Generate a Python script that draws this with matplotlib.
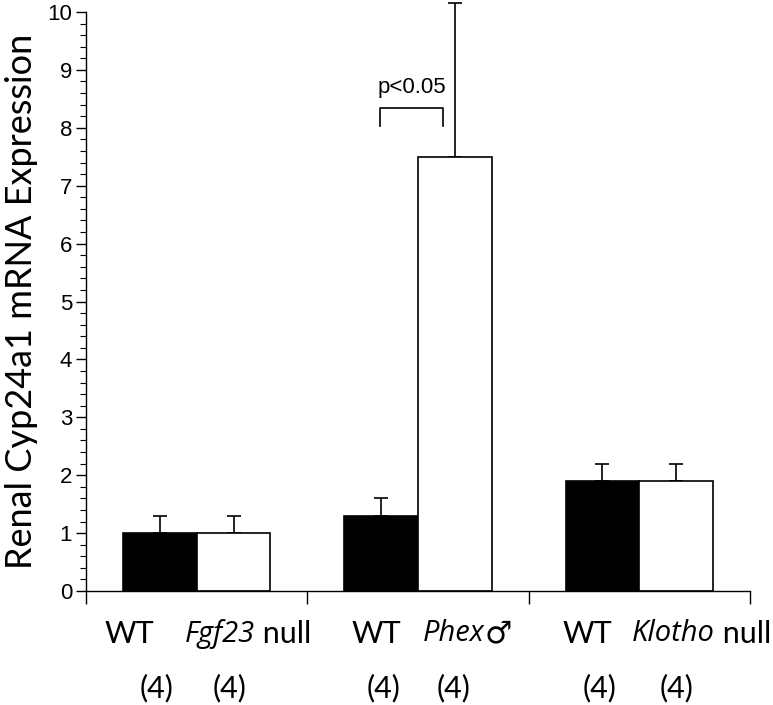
import numpy as np
import matplotlib.pyplot as plt
from matplotlib.ticker import MultipleLocator

# Données
groups = ['Fgf23', 'Phex', 'Klotho']
wt_mean = [1.0, 1.3, 1.9]
wt_err = [0.3, 0.3, 0.3]
mut_mean = [1.0, 7.5, 1.9]
mut_err = [0.3, 2.65, 0.3]
n_wt = [4, 4, 4]
n_mut = [4, 4, 4]
mut_italic = ['Fgf23', 'Phex', 'Klotho']
mut_suffix = [' null', '\u2642', ' null']

W, H = 773, 705
fig = plt.figure(figsize=(W / 100, H / 100), dpi=100)
ax = fig.add_axes([86 / W, (H - 591) / H, (750 - 86) / W, 579 / H])

x = np.arange(len(groups)) + 0.5
bw = 0.333

ax.bar(x - bw / 2, wt_mean, bw, color='black', edgecolor='black', linewidth=1.2, zorder=2)
ax.bar(x + bw / 2, mut_mean, bw, color='white', edgecolor='black', linewidth=1.2, zorder=2)
ax.errorbar(x - bw / 2, wt_mean, yerr=[np.zeros(3), wt_err], fmt='none', ecolor='black',
            elinewidth=1.2, capsize=5, capthick=1.2, clip_on=False, zorder=1)
ax.errorbar(x + bw / 2, mut_mean, yerr=[np.zeros(3), mut_err], fmt='none', ecolor='black',
            elinewidth=1.2, capsize=5, capthick=1.2, clip_on=False, zorder=1)

ax.set_xlim(0, 3)
ax.set_ylim(0, 10)
ax.spines['top'].set_visible(False)
ax.spines['right'].set_visible(False)
ax.spines['left'].set_linewidth(1.0)
ax.spines['bottom'].set_linewidth(1.0)
ax.yaxis.set_major_locator(MultipleLocator(1))
ax.yaxis.set_minor_locator(MultipleLocator(0.2))
ax.set_xticks([0, 1, 2, 3])
ax.set_xticklabels([])
ax.tick_params(axis='y', which='major', direction='out', length=7, width=1,
               labelsize=16, pad=3)
ax.tick_params(axis='y', which='minor', direction='out', length=4, width=0.8)
ax.tick_params(axis='x', direction='out', length=9, width=1)
for lab in ax.get_yticklabels():
    lab.set_fontfamily('Liberation Sans')

ax.set_ylabel('Renal Cyp24a1 mRNA Expression', fontsize=26, family='Lato', labelpad=7)

# p<0.05
bx0, bx1, by = 1.33, 1.615, 8.34
ax.plot([bx0, bx0, bx1, bx1], [8.03, by, by, 8.03], color='black', lw=1.2)
ax.text((bx0 + bx1) / 2, 8.52, 'p<0.05', ha='center', va='bottom', fontsize=16,
        family='Liberation Sans')

# étiquettes sous l'axe
tr = ax.get_xaxis_transform()
y_lab, y_n = -0.074, -0.168
fs = 22
wt_pos = [0.195, 1.312, 2.267]
split_pos = [0.765, 1.80, 2.84]
n_pos = [(0.317, 0.647), (1.344, 1.661), (2.321, 2.67)]
for i in range(len(groups)):
    ax.text(wt_pos[i], y_lab, 'WT', transform=tr, ha='center', va='center',
            fontsize=fs, family='Lato')
    ax.text(split_pos[i], y_lab, mut_italic[i], transform=tr, ha='right', va='center',
            fontsize=fs - 1, family='Open Sans', style='italic')
    ax.text(split_pos[i], y_lab, mut_suffix[i], transform=tr, ha='left', va='center',
            fontsize=fs, family=['DejaVu Sans'] if mut_suffix[i] == '\u2642' else ['Lato'])
    ax.text(n_pos[i][0], y_n, f'({n_wt[i]})', transform=tr, ha='center', va='center',
            fontsize=fs, family='Lato')
    ax.text(n_pos[i][1], y_n, f'({n_mut[i]})', transform=tr, ha='center', va='center',
            fontsize=fs, family='Lato')

fig.savefig('out.png', dpi=100)
